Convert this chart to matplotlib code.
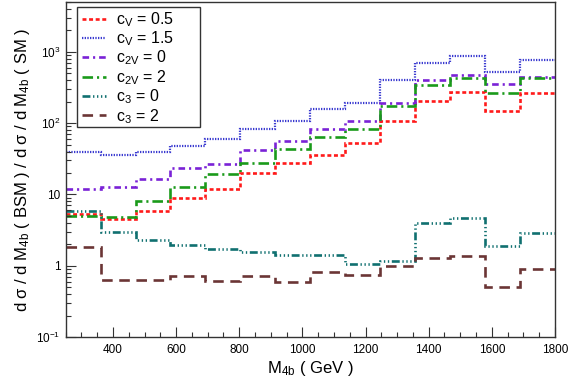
import numpy as np
import matplotlib
matplotlib.use("Agg")
import matplotlib.pyplot as plt
from matplotlib.patches import Rectangle
from matplotlib.ticker import FixedLocator, FuncFormatter, LogLocator, MultipleLocator, NullFormatter

plt.rcParams['font.family'] = ['Liberation Sans', 'DejaVu Sans']
plt.rcParams['mathtext.fontset'] = 'custom'
plt.rcParams['mathtext.rm'] = 'Liberation Sans'
plt.rcParams['mathtext.it'] = 'Liberation Sans:italic'
plt.rcParams['mathtext.default'] = 'regular'

# bin edges of M_4b (GeV)
edges = [250, 360.7, 471.4, 582.1, 692.9, 803.6, 914.3, 1025.0,
         1135.7, 1246.4, 1357.1, 1467.9, 1578.6, 1689.3, 1800]

cV_05 = [5.26, 4.52, 5.91, 8.82, 12.0, 19.8, 27.3, 36.0, 53.1, 109, 202, 270, 149, 262]
cV_15 = [39.3, 35.7, 39.3, 48.2, 60.8, 82.6, 107, 157, 190, 402, 708, 882, 526, 780]
c2V_0 = [11.9, 12.8, 16.3, 23.2, 26.7, 42.0, 57.0, 81.8, 107, 190, 402, 473, 350, 448]
c2V_2 = [5.03, 4.77, 8.0, 12.8, 19.1, 27.3, 42.9, 63.2, 81.8, 174, 339, 425, 262, 433]
c3_0 = [5.91, 2.94, 2.27, 1.95, 1.70, 1.54, 1.40, 1.41, 1.05, 1.16, 3.93, 4.71, 1.89, 2.85]
c3_2 = [1.81, 0.63, 0.64, 0.72, 0.62, 0.72, 0.60, 0.82, 0.75, 0.99, 1.27, 1.37, 0.51, 0.91]

labels = [r'c$_{V}$ = 0.5', r'c$_{V}$ = 1.5', r'c$_{2V}$ = 0', r'c$_{2V}$ = 2',
          r'c$_{3}$ = 0', r'c$_{3}$ = 2']
series = [cV_05, cV_15, c2V_0, c2V_2, c3_0, c3_2]
colors = ['#ff1a1a', '#3a3ad0', '#7a22d6', '#1a9a1a', '#107070', '#6b3535']
dashes = [(1.5, 1.0), (0.6, 0.6), (2.5, 1.5, 0.8, 1.5), (4.0, 1.5, 0.8, 1.5),
          (3.0, 1.0, 0.5, 1.0, 0.5, 1.0, 0.5, 1.0), (4.0, 2.5)]
widths = [1.9, 1.6, 1.9, 1.9, 1.9, 1.9]

fig = plt.figure(figsize=(5.68, 3.81), dpi=100)
ax = fig.add_axes([0.1155, 0.1155, 0.8616, 0.879])

for vals, lab, col, ds, lw in zip(series, labels, colors, dashes, widths):
    st = ax.stairs(vals, edges, baseline=None, color=col, linewidth=lw,
                   label=lab)
    st.set_linestyle((0, ds))

ax.set_yscale('log')
ax.set_xlim(250, 1800)
ax.set_ylim(0.1, 5000)

ax.xaxis.set_major_locator(MultipleLocator(200))
ax.xaxis.set_minor_locator(MultipleLocator(50))
ax.yaxis.set_major_locator(FixedLocator([0.1, 1, 10, 100, 1000]))
ax.yaxis.set_minor_locator(LogLocator(base=10, subs=np.arange(2, 10)))
ax.yaxis.set_minor_formatter(NullFormatter())

def yfmt(v, pos):
    if np.isclose(v, 1):
        return '1'
    if np.isclose(v, 10):
        return '10'
    e = int(round(np.log10(v)))
    return r'10$^{%d}$' % e

ax.yaxis.set_major_formatter(FuncFormatter(yfmt))
ax.tick_params(which='both', direction='in', top=False, right=False,
               labelsize=8.5, width=0.8, color='#333333')
ax.tick_params(which='major', length=7)
ax.tick_params(which='minor', length=3.5)
ax.tick_params(axis='x', pad=5)
for sp in ax.spines.values():
    sp.set_linewidth(1.0)
    sp.set_color('#333333')

ax.set_xlabel(r'M$_{4b}$ ( GeV )', fontsize=12, labelpad=2)
ax.set_ylabel(r'd σ / d M$_{4b}$ ( BSM ) / d σ / d M$_{4b}$ ( SM )', fontsize=12, labelpad=3)

# legend box (ROOT style, wide frame)
ax.add_patch(Rectangle((0.0233, 0.627), 0.2513, 0.358, transform=ax.transAxes,
                       facecolor='white', edgecolor='#333333', linewidth=1.0,
                       zorder=4))
leg = ax.legend(loc='upper left', bbox_to_anchor=(0.026, 0.988), borderaxespad=0,
                frameon=False, fontsize=11.5,
                handlelength=1.5, handletextpad=0.6, labelspacing=0.04,
                borderpad=0.25)
leg.set_zorder(5)

fig.savefig('out.png', dpi=100)
